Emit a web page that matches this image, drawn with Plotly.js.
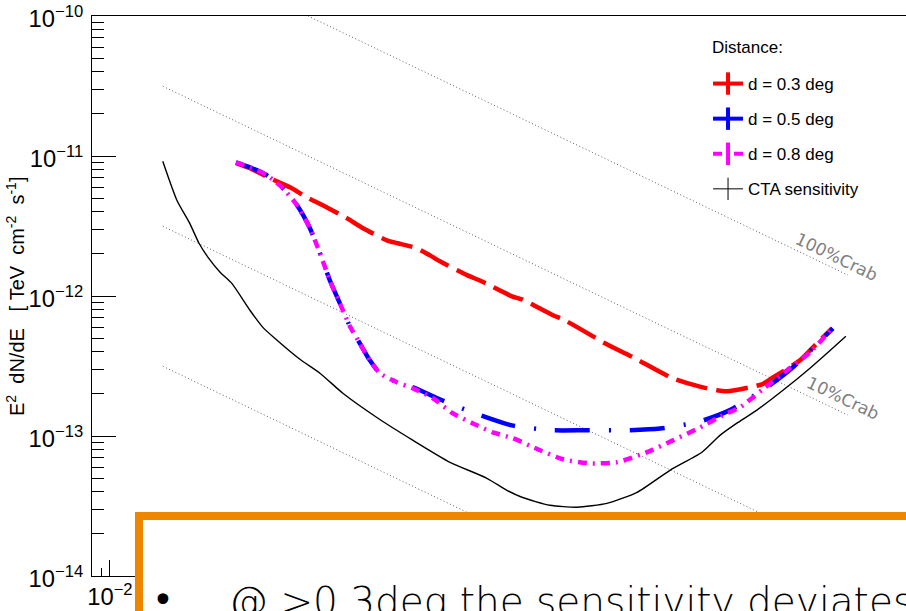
<!DOCTYPE html>
<html><head><meta charset="utf-8">
<script src="https://cdn.plot.ly/plotly-3.0.1.min.js"></script>
<style>html,body{margin:0;padding:0;background:#fff}#chart{width:906px;height:611px}</style>
</head><body><div id="chart"></div>
<script>
// CTA sensitivity (TeV, TeV cm^-2 s^-1)
const energyCTA = [0.0193,0.0230,0.0270,0.0303,0.0339,0.0394,0.0456,0.0571,0.0671,0.0789,0.1064,0.1365,0.1816,0.281,0.435,0.689,1.091,1.40,1.687,2.388,3.342,4.853,7.063,10.64,15.85,19.82,24.83,31.41,43.45,60.81,75.16,95.06];
const fluxCTA   = [9.16e-12,4.83e-12,3.30e-12,2.38e-12,1.89e-12,1.48e-12,1.23e-12,7.91e-13,5.97e-13,4.91e-13,3.53e-13,2.81e-13,2.02e-13,1.34e-13,9.31e-14,6.49e-14,4.99e-14,4.09e-14,3.65e-14,3.20e-14,3.10e-14,3.30e-14,3.96e-14,5.69e-14,7.66e-14,1.01e-13,1.25e-13,1.53e-13,2.12e-13,3.05e-13,3.90e-13,5.15e-13];
// d = 0.3 deg
const energy03 = [0.0480,0.0571,0.0733,0.0940,0.1161,0.1415,0.1910,0.2333,0.3141,0.3605,0.456,0.537,0.608,0.883,1.0,1.489,1.687,2.481,2.81,4.083,4.624,6.714,11.04,15.45,19.10,21.63,33.42,38.37,53.70,63.10,79.98];
const flux03   = [8.88e-12,8.17e-12,6.93e-12,5.97e-12,5.07e-12,4.45e-12,3.59e-12,3.05e-12,2.50e-12,2.38e-12,2.19e-12,1.95e-12,1.77e-12,1.38e-12,1.29e-12,9.95e-13,9.46e-13,7.28e-13,6.82e-13,5.15e-13,4.67e-13,3.65e-13,2.58e-13,2.25e-13,2.12e-13,2.09e-13,2.34e-13,2.62e-13,3.47e-13,4.30e-13,5.88e-13];
// d = 0.5 deg
const energy05 = [0.0480,0.0571,0.0706,0.0861,0.1026,0.1205,0.1365,0.1545,0.1749,0.1981,0.2243,0.2540,0.2875,0.3556,0.435,0.624,1.0,1.489,2.449,3.787,6.233,9.40,15.45,22.44,35.56,49.20,80.9];
const flux05   = [9.02e-12,8.31e-12,7.28e-12,5.88e-12,4.45e-12,3.05e-12,2.02e-12,1.29e-12,8.87e-13,6.08e-13,4.59e-13,3.47e-13,2.81e-13,2.42e-13,2.23e-13,1.80e-13,1.41e-13,1.19e-13,1.10e-13,1.10e-13,1.10e-13,1.13e-13,1.27e-13,1.53e-13,2.23e-13,3.10e-13,5.88e-13];
// d = 0.8 deg
const energy08 = [0.0480,0.0571,0.0706,0.0861,0.1026,0.1205,0.1365,0.1545,0.1749,0.1981,0.2243,0.2540,0.2875,0.3556,0.435,0.557,0.714,0.916,1.175,1.507,2.110,2.81,3.933,5.503,7.998,11.04,15.45,21.09,25.43,33.88,45.60,60.81,80.9];
const flux08   = [9.02e-12,8.31e-12,7.28e-12,5.88e-12,4.45e-12,3.05e-12,2.02e-12,1.29e-12,8.87e-13,6.08e-13,4.59e-13,3.47e-13,2.81e-13,2.42e-13,2.19e-13,1.86e-13,1.45e-13,1.23e-13,1.06e-13,9.64e-14,7.91e-14,6.82e-14,6.38e-14,6.49e-14,7.66e-14,9.31e-14,1.15e-13,1.43e-13,1.60e-13,2.16e-13,2.94e-13,3.96e-13,5.97e-13];
// Crab reference lines
const crabEnergy = [0.0193, 97.5];
const crab1000 = [3.15e-10, 1.41e-12];
const crab100  = [3.15e-11, 1.41e-13];
const crab10   = [3.15e-12, 1.41e-14];
const crab1    = [3.15e-13, 1.41e-15];
const crabLabels = ['100%Crab','10%Crab'];
const legendTitle = 'Distance:';
const legendNames = ['d = 0.3 deg','d = 0.5 deg','d = 0.8 deg','CTA sensitivity'];
const yTitle = 'E<sup>2</sup>\u00a0\u00a0dN/dE\u00a0\u00a0\u00a0[\u00a0TeV\u00a0\u00a0cm<sup>-2</sup>\u00a0\u00a0s<sup>-1</sup>]';
const noteText = '@ >0.3deg the sensitivity deviates';

const crabStyle = {color:'#606060', width:1, dash:'1px,2.5px'};
const traces = [];
[crab1000, crab100, crab10, crab1].forEach(c => traces.push({
  x: crabEnergy, y: c, mode:'lines', line: crabStyle, showlegend:false, hoverinfo:'skip'
}));
traces.push({x:energyCTA, y:fluxCTA, mode:'lines', line:{color:'black', width:1.4, shape:'spline', smoothing:0.6}, showlegend:false});
traces.push({x:energy03, y:flux03, mode:'lines', line:{color:'#ff0000', width:4.5, dash:'32px,9px', shape:'spline', smoothing:0.6}, showlegend:false});
traces.push({x:energy05, y:flux05, mode:'lines', line:{color:'#0000ff', width:4.5, dash:'35px,19px,2px,19px', shape:'spline', smoothing:0.6}, showlegend:false});
traces.push({x:energy08, y:flux08, mode:'lines', line:{color:'#ff00ff', width:4.5, dash:'9px,6px,2px,6px', shape:'spline', smoothing:0.6}, showlegend:false});

// legend entries (error-bar style crosses)
const legColors = ['#ff0000','#0000ff','#ff00ff','#000000'];
const legWidths = [4,4,4,1];
const legDash = ['solid','solid','9px,5px,2px,5px','solid'];
legendNames.forEach((n,i) => traces.push({
  x:[null], y:[null], name:n, mode:'lines+markers', legendgroup:'g'+i,
  line:{color:legColors[i], width:legWidths[i], dash:legDash[i]},
  marker:{symbol:'line-ns', size:16, color:legColors[i], line:{color:legColors[i], width:legWidths[i]}}
}));

const axisCommon = {
  type:'log', dtick:1, ticks:'inside', tickcolor:'black', tickwidth:1,
  showline:true, linecolor:'black', linewidth:1, showgrid:false, zeroline:false,
  exponentformat:'power', tickfont:{size:19, color:'black'}, ticklabeloverflow:'allow'
};

const layout = {
  width:906, height:611,
  margin:{l:92, r:0, t:16, b:35},
  paper_bgcolor:'white', plot_bgcolor:'white',
  font:{family:'Liberation Sans, Arial, sans-serif', color:'black'},
  xaxis: Object.assign({}, axisCommon, {
    range:[-2.097, 2.303], ticklen:16, mirror:true,
    minor:{ticks:'inside', ticklen:8, dtick:'D1', tickcolor:'black', tickwidth:1}
  }),
  yaxis: Object.assign({}, axisCommon, {
    range:[-14, -10], ticklen:24, mirror:false, ticklabelshift:3, ticklabelstandoff:4,
    minor:{ticks:'inside', ticklen:12, dtick:'D1', tickcolor:'black', tickwidth:1}
  }),
  legend:{x:0.7568, y:0.9107, xanchor:'left', yanchor:'top', bgcolor:'rgba(0,0,0,0)',
    font:{size:17}, traceorder:'grouped', tracegroupgap:10},
  shapes:[{type:'rect', xref:'paper', yref:'paper', x0:0.0577, y0:-0.4, x1:1.3, y1:0.1071,
    line:{color:'#EE8600', width:8}, fillcolor:'white', layer:'above'}],
  annotations:[
    {xref:'paper', yref:'paper', x:-0.0946, y:0.5, xanchor:'center', yanchor:'middle', text:yTitle,
     textangle:-90, showarrow:false, font:{size:20, color:'black'}},
    {xref:'paper', yref:'paper', x:0.759, y:0.9446, xanchor:'left', yanchor:'middle', text:legendTitle,
     showarrow:false, font:{size:17, color:'black'}},
    {xref:'x', yref:'y', x:1.930, y:-11.724, text:crabLabels[0], showarrow:false, textangle:25.6,
     font:{family:'DejaVu Sans', size:17, color:'#808080'}},
    {xref:'x', yref:'y', x:1.962, y:-12.731, text:crabLabels[1], showarrow:false, textangle:25.6,
     font:{family:'DejaVu Sans', size:17, color:'#808080'}},
    {xref:'paper', yref:'paper', x:0.0878, y:-0.0018, xanchor:'center', yanchor:'top', text:'•', showarrow:false,
     font:{family:'DejaVu Sans', size:37, color:'black'}},
    {xref:'paper', yref:'paper', x:0.166, y:-0.0018, xanchor:'left', yanchor:'top', text:noteText, showarrow:false,
     font:{family:'DejaVu Sans', size:39, color:'black', weight:200}}
  ]
};
Plotly.newPlot('chart', traces, layout, {staticPlot:true, displayModeBar:false});
</script></body></html>
